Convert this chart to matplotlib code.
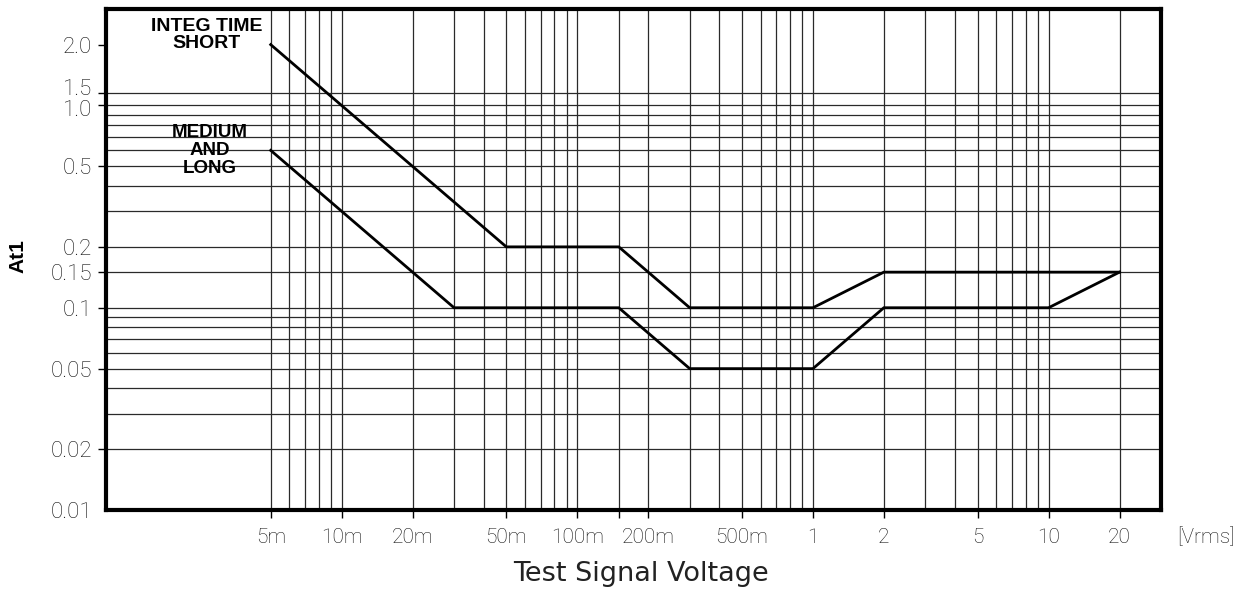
import numpy as np
import matplotlib
matplotlib.use('Agg')
import matplotlib.pyplot as plt
import matplotlib.transforms as mtransforms

## data (x in Vrms, y = At1)
short_x  = [5e-3, 50e-3, 150e-3, 300e-3, 1.0, 2.0, 20.0]
short_y  = [2.0, 0.2, 0.2, 0.1, 0.1, 0.15, 0.15]
medium_x = [5e-3, 30e-3, 150e-3, 300e-3, 1.0, 2.0, 10.0, 20.0]
medium_y = [0.6, 0.1, 0.1, 0.05, 0.05, 0.1, 0.1, 0.15]

## axis ticks and labels
x_ticks       = [5e-3, 10e-3, 20e-3, 50e-3, 0.1, 0.15, 0.2, 0.5, 1, 2, 5, 10, 20]
x_tick_labels = ['5m', '10m', '20m', '50m', '100m', '', '200m', '500m',
                 '1', '2', '5', '10', '20']
# the "1.5" line of the original sits just above 1.0, not at 1.5
y_ticks       = [0.01, 0.02, 0.05, 0.1, 0.15, 0.2, 0.5, 1.0, 1.15, 2.0]
y_tick_labels = ['0.01', '0.02', '0.05', '0.1', '0.15', '0.2', '0.5',
                 '1.0', '1.5', '2.0']

## grid lines
x_grid = [5e-3, 6e-3, 7e-3, 8e-3, 9e-3, 10e-3, 20e-3, 30e-3, 40e-3,
          50e-3, 60e-3, 70e-3, 80e-3, 90e-3, 100e-3, 150e-3, 200e-3,
          300e-3, 400e-3, 500e-3, 600e-3, 700e-3, 800e-3, 900e-3,
          1, 2, 3, 4, 5, 6, 7, 8, 9, 10, 20]
y_grid = [0.02, 0.03, 0.04, 0.05, 0.06, 0.07, 0.08, 0.09, 0.1, 0.15,
          0.2, 0.3, 0.4, 0.5, 0.6, 0.7, 0.8, 0.9, 1.0, 1.15]

label_font = ['Roboto', 'DejaVu Sans']
bold_font  = ['Liberation Sans', 'DejaVu Sans']

fig = plt.figure(figsize=(12.44, 5.89), dpi=100)
ax  = fig.add_axes([106/1244., 1 - 510/589., (1161-106)/1244., (510-9)/589.])

ax.set_xscale('log')
ax.set_yscale('log')
ax.set_xlim(1e-3, 30)
ax.set_ylim(0.01, 3.0)

## grid
for xv in x_grid:
    ax.axvline(xv, color='#2a2a2a', lw=0.9, zorder=1)
for yv in y_grid:
    ax.axhline(yv, color='#2a2a2a', lw=0.9, zorder=1)

## curves
ax.plot(short_x, short_y, color='k', lw=2.0, zorder=3, solid_joinstyle='miter')
ax.plot(medium_x, medium_y, color='k', lw=2.0, zorder=3, solid_joinstyle='miter')

## ticks
ax.xaxis.set_minor_locator(matplotlib.ticker.NullLocator())
ax.yaxis.set_minor_locator(matplotlib.ticker.NullLocator())
ax.set_xticks(x_ticks)
ax.set_xticklabels(x_tick_labels)
ax.set_yticks(y_ticks)
ax.set_yticklabels(y_tick_labels)
ax.tick_params(axis='both', direction='out', length=6, width=1.0, color='k')
ax.tick_params(axis='x', pad=7)
ax.tick_params(axis='y', pad=4)
for lab in ax.get_xticklabels():
    lab.set_fontfamily(label_font)
    lab.set_fontweight('light')
    lab.set_fontsize(15)
    lab.set_color('#111111')
for lab in ax.get_yticklabels():
    lab.set_fontfamily(label_font)
    lab.set_fontweight('light')
    lab.set_fontsize(16)
    lab.set_color('#111111')

# 0.01 has a label but no tick
ax.yaxis.get_major_ticks()[0].tick1line.set_visible(False)
# nudge the crowded 1.0 / 1.5 labels apart
ylabs = ax.get_yticklabels()
ylabs[7].set_transform(ylabs[7].get_transform() +
                       mtransforms.ScaledTranslation(0, -3/100., fig.dpi_scale_trans))
ylabs[8].set_transform(ylabs[8].get_transform() +
                       mtransforms.ScaledTranslation(0, 6/100., fig.dpi_scale_trans))

for sp in ax.spines.values():
    sp.set_linewidth(3.0)
    sp.set_color('k')
    sp.set_zorder(4)

## curve labels
ax.text(0.0954, 0.948, 'INTEG TIME\nSHORT', transform=ax.transAxes,
        ha='center', va='center', fontsize=14, fontweight='bold',
        family=bold_font, linespacing=1.0, zorder=5)
ax.text(0.0986, 0.7176, 'MEDIUM\nAND\nLONG', transform=ax.transAxes,
        ha='center', va='center', fontsize=13.5, fontweight='bold',
        family=bold_font, linespacing=1.05, zorder=5)

## axis titles
fig.text(17.5/1244., 1 - 256/589., 'At1', rotation=90, ha='center', va='center',
         fontsize=15, fontweight='bold', family=bold_font)
fig.text(641/1244., 1 - 574/589., 'Test Signal Voltage', ha='center', va='center',
         fontsize=19.5, family=['DejaVu Sans'], color='#222222')
fig.text(1206/1244., 1 - 537/589., '[Vrms]', ha='center', va='center',
         fontsize=15, family=label_font, fontweight='light', color='#111111')

fig.savefig('out.png', dpi=100)
